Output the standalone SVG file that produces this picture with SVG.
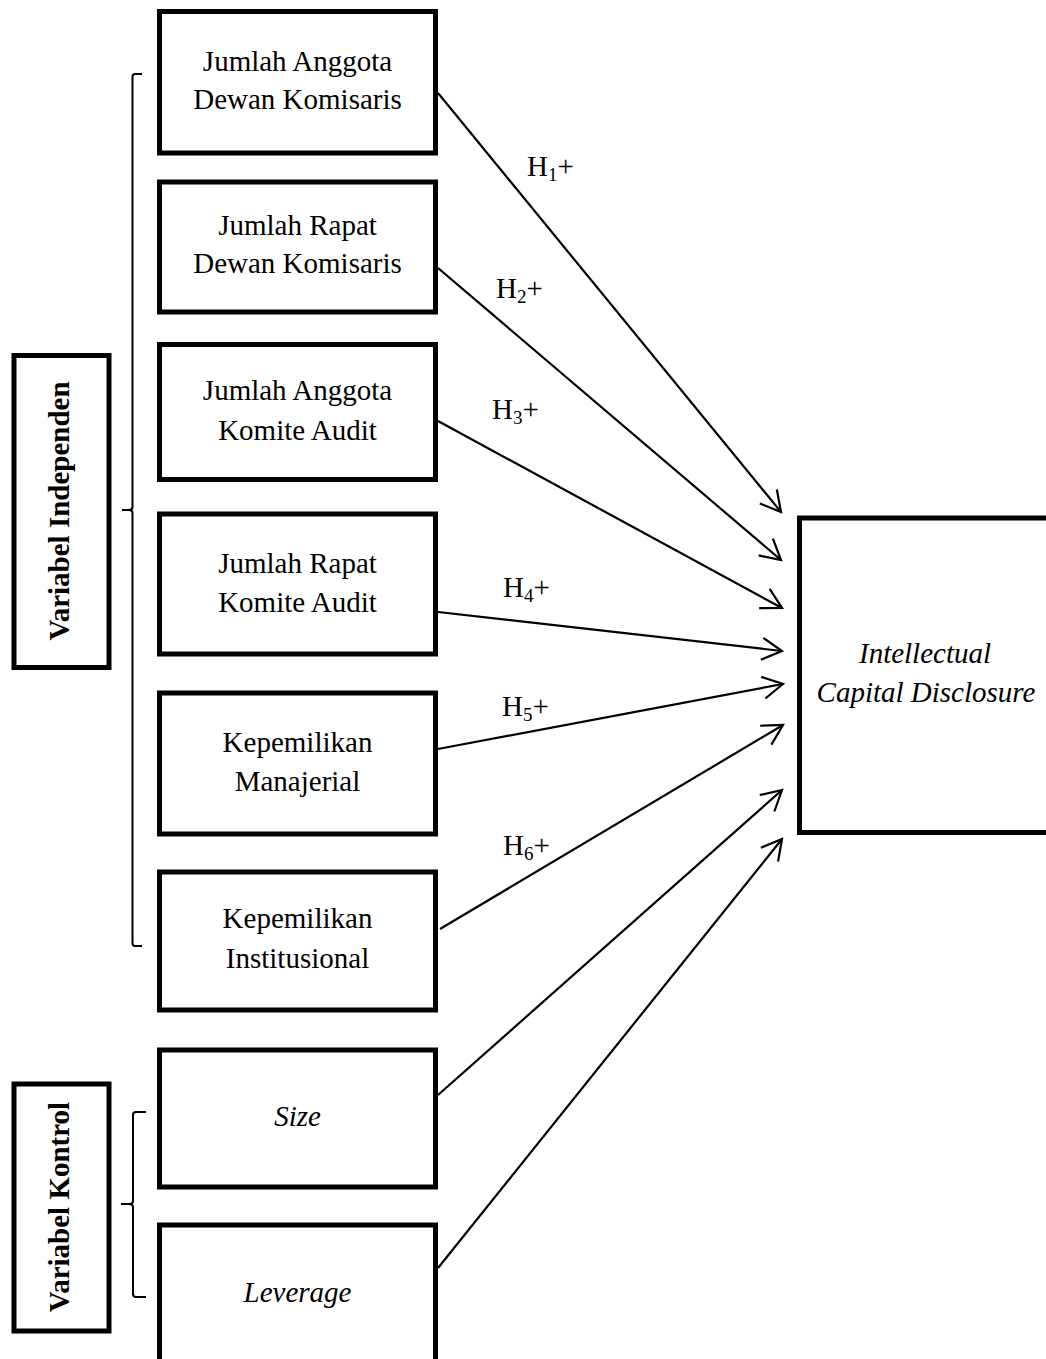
<svg xmlns="http://www.w3.org/2000/svg" width="1046" height="1359" viewBox="0 0 1046 1359">
<defs>
<style>
.box{fill:#fff;stroke:#000;stroke-width:5}
.t{font-family:"Liberation Serif","Times New Roman",serif;font-size:29px;fill:#000;text-anchor:middle}
.i{font-style:italic}
.lbl{font-family:"Liberation Serif","Times New Roman",serif;font-size:29px;font-weight:bold;fill:#000;text-anchor:middle}
.h{font-family:"Liberation Serif","Times New Roman",serif;font-size:29px;fill:#000}
.sub{font-size:19px}
.c{fill:none;stroke:#000;stroke-width:2.2}
.br{fill:none;stroke:#000;stroke-width:2}
</style>
<marker id="ah" markerUnits="userSpaceOnUse" orient="auto" refX="0" refY="0" markerWidth="30" markerHeight="30" viewBox="-25 -15 30 30" overflow="visible">
<path d="M-20,-11 L0,0 L-20,11" fill="none" stroke="#000" stroke-width="2.2"/>
</marker>
</defs>
<rect width="1046" height="1359" fill="#fff"/>

<g id="label-independen">
<rect class="box" x="14" y="355.5" width="95" height="312"/>
<text class="lbl" transform="translate(69,511) rotate(-90)">Variabel Independen</text>
</g>
<g id="label-kontrol">
<rect class="box" x="14" y="1084" width="95" height="247"/>
<text class="lbl" transform="translate(69,1207) rotate(-90)">Variabel Kontrol</text>
</g>

<g id="braces">
<path class="br" d="M142,74 L135,74 Q132.5,74 132.5,77 L132.5,507 Q132.5,510 129,510 L122,510 M129,510 Q132.5,510 132.5,513 L132.5,943 Q132.5,946 135,946 L142,946"/>
<path class="br" d="M146,1112 L136,1112 Q133,1112 133,1115 L133,1201 Q133,1204 129,1204 L121,1204 M129,1204 Q133,1204 133,1207 L133,1294 Q133,1297 136,1297 L146,1297"/>
</g>

<g id="n1">
<rect class="box" x="159.5" y="11.5" width="276" height="141.5"/>
<text class="t" x="297.5" y="71">Jumlah Anggota</text>
<text class="t" x="297.5" y="109">Dewan Komisaris</text>
</g>
<g id="n2">
<rect class="box" x="159.5" y="182" width="276" height="130"/>
<text class="t" x="297.5" y="235">Jumlah Rapat</text>
<text class="t" x="297.5" y="273">Dewan Komisaris</text>
</g>
<g id="n3">
<rect class="box" x="159.5" y="344.5" width="276" height="135"/>
<text class="t" x="297.5" y="400">Jumlah Anggota</text>
<text class="t" x="297.5" y="440">Komite Audit</text>
</g>
<g id="n4">
<rect class="box" x="159.5" y="514" width="276" height="140"/>
<text class="t" x="297.5" y="573">Jumlah Rapat</text>
<text class="t" x="297.5" y="612">Komite Audit</text>
</g>
<g id="n5">
<rect class="box" x="159.5" y="693" width="276" height="141"/>
<text class="t" x="297.5" y="752">Kepemilikan</text>
<text class="t" x="297.5" y="791">Manajerial</text>
</g>
<g id="n6">
<rect class="box" x="159.5" y="872" width="276" height="138"/>
<text class="t" x="297.5" y="928">Kepemilikan</text>
<text class="t" x="297.5" y="968">Institusional</text>
</g>
<g id="n-size">
<rect class="box" x="159.5" y="1050" width="276" height="137"/>
<text class="t i" x="297.5" y="1126">Size</text>
</g>
<g id="n-leverage">
<rect class="box" x="159.5" y="1225" width="276" height="150"/>
<text class="t i" x="297.5" y="1302">Leverage</text>
</g>
<g id="n-icd">
<rect class="box" x="799.5" y="518" width="260" height="314.5"/>
<text class="t i" x="925" y="663">Intellectual</text>
<text class="t i" x="926" y="702">Capital Disclosure</text>
</g>

<g id="connectors">
<line class="c" x1="438" y1="93" x2="781" y2="512" marker-end="url(#ah)"/>
<line class="c" x1="438" y1="268" x2="781" y2="560" marker-end="url(#ah)"/>
<line class="c" x1="438" y1="421" x2="782" y2="608" marker-end="url(#ah)"/>
<line class="c" x1="438" y1="612" x2="782" y2="651" marker-end="url(#ah)"/>
<line class="c" x1="438" y1="749" x2="783" y2="684" marker-end="url(#ah)"/>
<line class="c" x1="440" y1="929" x2="783" y2="725" marker-end="url(#ah)"/>
<line class="c" x1="438" y1="1095" x2="782" y2="790" marker-end="url(#ah)"/>
<line class="c" x1="438" y1="1268" x2="782" y2="839" marker-end="url(#ah)"/>
</g>

<g id="hypothesis-labels">
<text class="h" x="527" y="176">H<tspan class="sub" dy="5">1</tspan><tspan dy="-5">+</tspan></text>
<text class="h" x="496" y="298">H<tspan class="sub" dy="5">2</tspan><tspan dy="-5">+</tspan></text>
<text class="h" x="492" y="419">H<tspan class="sub" dy="5">3</tspan><tspan dy="-5">+</tspan></text>
<text class="h" x="503" y="597">H<tspan class="sub" dy="5">4</tspan><tspan dy="-5">+</tspan></text>
<text class="h" x="502" y="716">H<tspan class="sub" dy="5">5</tspan><tspan dy="-5">+</tspan></text>
<text class="h" x="503" y="855">H<tspan class="sub" dy="5">6</tspan><tspan dy="-5">+</tspan></text>
</g>
</svg>
